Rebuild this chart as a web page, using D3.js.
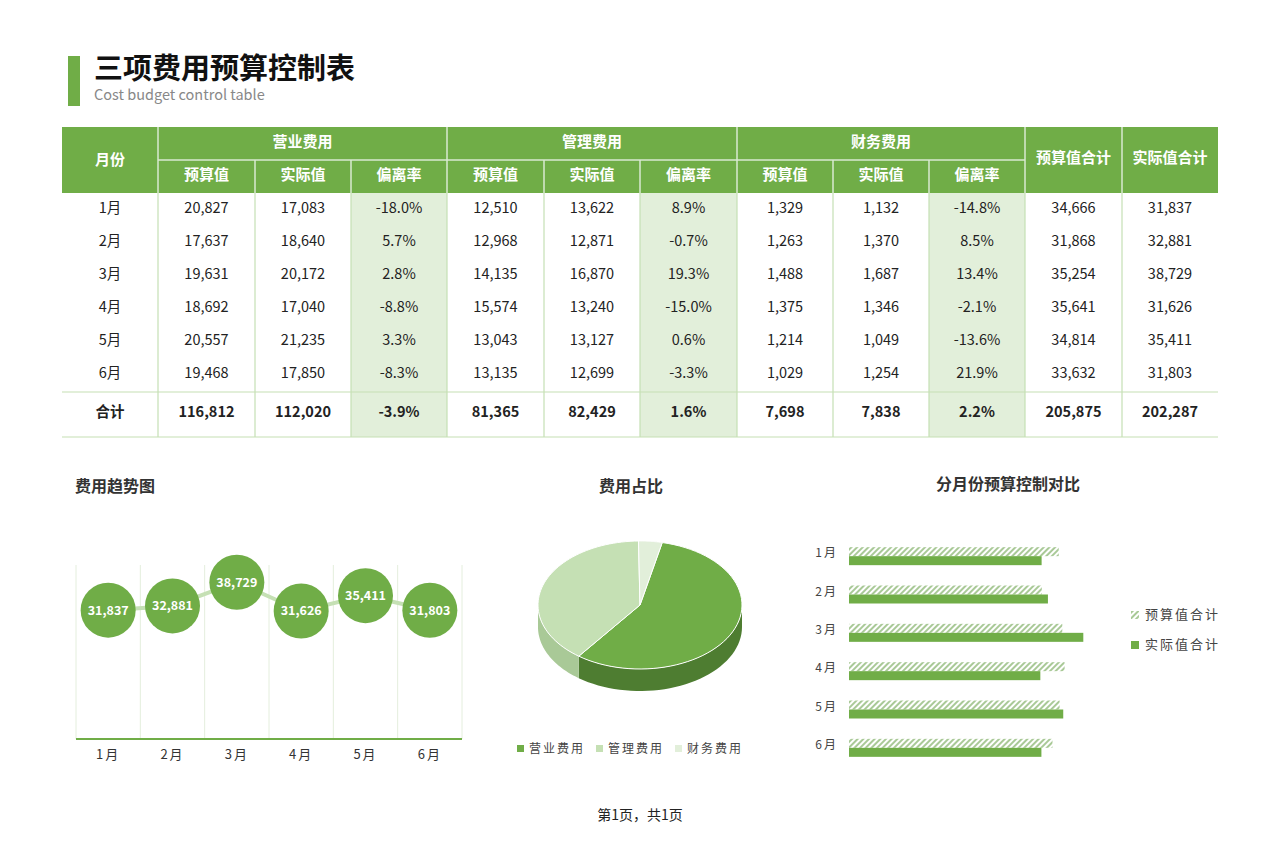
<!DOCTYPE html>
<html><head><meta charset="utf-8">
<script src="https://cdn.jsdelivr.net/npm/d3@7"></script>
<style>body{margin:0;background:#fff}text{font-family:"Noto Sans CJK SC","Noto Sans",sans-serif}</style>
</head><body><svg id="c" width="1280" height="857"></svg>
<script>
const months=["1月","2月","3月","4月","5月","6月"];
const groups=["营业费用","管理费用","财务费用"];
const subHeads=["预算值","实际值","偏离率"];
const opBudget=[20827,17637,19631,18692,20557,19468];
const opActual=[17083,18640,20172,17040,21235,17850];
const opRate=["-18.0%","5.7%","2.8%","-8.8%","3.3%","-8.3%"];
const mgBudget=[12510,12968,14135,15574,13043,13135];
const mgActual=[13622,12871,16870,13240,13127,12699];
const mgRate=["8.9%","-0.7%","19.3%","-15.0%","0.6%","-3.3%"];
const fiBudget=[1329,1263,1488,1375,1214,1029];
const fiActual=[1132,1370,1687,1346,1049,1254];
const fiRate=["-14.8%","8.5%","13.4%","-2.1%","-13.6%","21.9%"];
const budgetTotal=[34666,31868,35254,35641,34814,33632];
const actualTotal=[31837,32881,38729,31626,35411,31803];
const totalRow=["合计","116,812","112,020","-3.9%","81,365","82,429","1.6%","7,698","7,838","2.2%","205,875","202,287"];
const pieNames=["营业费用","管理费用","财务费用"];
const pieValues=[116812,81365,7698];
const monthTicks=["1月","2月","3月","4月","5月","6月"];

const svg=d3.select("#c");
const G="#70ad47",LG="#c5e0b4",PALE="#e2efda",LINE="#c5e0b4";
const NUM="Liberation Sans, Arial, 'Noto Sans CJK SC', sans-serif";
const fmt=d3.format(",");
svg.append("rect").attr("x",68).attr("y",56).attr("width",12).attr("height",50).attr("fill",G);
svg.append("text").attr("x",94).attr("y",79).attr("font-size",29).attr("font-weight",700).attr("fill","#111").text("三项费用预算控制表");
svg.append("text").attr("x",94).attr("y",100).attr("font-size",14.5).attr("fill","#888").attr("font-family",NUM).text("Cost budget control table");

const xs=[62,158,255,351,447,544,640,737,833,929,1025,1122,1218];
const cx=i=>(xs[i]+xs[i+1])/2;
svg.append("rect").attr("x",62).attr("y",127).attr("width",1156).attr("height",66).attr("fill",G);
const hdr=svg.append("g").attr("fill","#fff").attr("font-weight",700).attr("font-size",15).attr("text-anchor","middle");
hdr.append("text").attr("x",cx(0)).attr("y",165).text("月份");
groups.forEach((g,k)=>{hdr.append("text").attr("x",(xs[1+3*k]+xs[4+3*k])/2).attr("y",147).text(g);
 subHeads.forEach((s,j)=>hdr.append("text").attr("x",cx(1+3*k+j)).attr("y",180).text(s));});
hdr.append("text").attr("x",cx(10)).attr("y",163).text("预算值合计");
hdr.append("text").attr("x",cx(11)).attr("y",163).text("实际值合计");
const hl=svg.append("g").attr("stroke","#d9ead0").attr("stroke-width",1.5);
hl.append("line").attr("x1",158).attr("x2",1025).attr("y1",160).attr("y2",160);
[1,4,7,10,11].forEach(i=>hl.append("line").attr("x1",xs[i]).attr("x2",xs[i]).attr("y1",127).attr("y2",193));
[2,3,5,6,8,9].forEach(i=>hl.append("line").attr("x1",xs[i]).attr("x2",xs[i]).attr("y1",160).attr("y2",193));
[3,6,9].forEach(i=>svg.append("rect").attr("x",xs[i]).attr("y",193).attr("width",xs[i+1]-xs[i]).attr("height",244).attr("fill",PALE));
const bl=svg.append("g").attr("stroke",LINE).attr("stroke-width",1.2);
xs.slice(1,-1).forEach(x=>bl.append("line").attr("x1",x).attr("x2",x).attr("y1",193).attr("y2",437));
bl.append("line").attr("x1",62).attr("x2",1218).attr("y1",392).attr("y2",392);
bl.append("line").attr("x1",62).attr("x2",1218).attr("y1",437).attr("y2",437);
const cols=[months,opBudget.map(fmt),opActual.map(fmt),opRate,mgBudget.map(fmt),mgActual.map(fmt),mgRate,fiBudget.map(fmt),fiActual.map(fmt),fiRate,budgetTotal.map(fmt),actualTotal.map(fmt)];
const body=svg.append("g").attr("font-size",14.5).attr("fill","#222").attr("text-anchor","middle").attr("font-family",NUM);
months.forEach((m,r)=>cols.forEach((c,i)=>body.append("text").attr("x",i==0?110:cx(i)).attr("y",213+33*r).text(c[r])));
totalRow.forEach((t,i)=>body.append("text").attr("x",cx(i)).attr("y",417).attr("font-weight",700).text(t));

const st=svg.append("g").attr("font-size",16).attr("font-weight",700).attr("fill","#333");
st.append("text").attr("x",75).attr("y",492).text("费用趋势图");
st.append("text").attr("x",631).attr("y",492).attr("text-anchor","middle").text("费用占比");
st.append("text").attr("x",1008).attr("y",490).attr("text-anchor","middle").text("分月份预算控制对比");

const xb=d3.scaleBand().domain(monthTicks).range([76,462]);
const yl=d3.scaleLinear().domain([0,42000]).range([739,569]);
const tg=svg.append("g");
xb.domain().forEach(m=>{tg.append("line").attr("x1",xb(m)).attr("x2",xb(m)).attr("y1",565).attr("y2",739).attr("stroke","#e4eedd")});
tg.append("line").attr("x1",462).attr("x2",462).attr("y1",565).attr("y2",739).attr("stroke","#e4eedd");
tg.append("line").attr("x1",76).attr("x2",462).attr("y1",739).attr("y2",739).attr("stroke",G).attr("stroke-width",2);
const pts=actualTotal.map((v,i)=>[xb(monthTicks[i])+xb.bandwidth()/2,yl(v)]);
tg.append("path").attr("d",d3.line()(pts)).attr("fill","none").attr("stroke",LG).attr("stroke-width",4);
pts.forEach((p,i)=>{tg.append("circle").attr("cx",p[0]).attr("cy",p[1]).attr("r",27.5).attr("fill",G);
 tg.append("text").attr("x",p[0]).attr("y",p[1]+4.5).attr("text-anchor","middle").attr("fill","#fff").attr("font-weight",700).attr("font-size",12.5).text(fmt(actualTotal[i]));});
monthTicks.forEach(m=>tg.append("text").attr("x",xb(m)+xb.bandwidth()/2).attr("y",759).attr("text-anchor","middle").attr("font-size",13).attr("fill","#333").attr("letter-spacing",2).text(m));

const pcx=640,pcy=605,rx=102,ry=64,dep=22;
const pieCols=[G,LG,"#e2efda"],sideCols=["#4e7d31","#a9c997","#c9d9bf"];
const arcs=d3.pie().sort(null).startAngle(0.22).endAngle(0.22+2*Math.PI)(pieValues);
const P=(a,dy=0)=>[pcx+rx*Math.sin(a),pcy-ry*Math.cos(a)+dy];
const pg=svg.append("g");
function sidePath(a0,a1){const s=Math.max(a0,Math.PI/2),e=Math.min(a1,3*Math.PI/2);if(s>=e)return null;
 const n=40;let top=[],bot=[];for(let k=0;k<=n;k++){const a=s+(e-s)*k/n;top.push(P(a));bot.push(P(a,dep));}
 return d3.line()(top.concat(bot.reverse()))+"Z";}
arcs.forEach((a,i)=>{let a0=a.startAngle,a1=a.endAngle;
 [[a0,a1],[a0-2*Math.PI,a1-2*Math.PI],[a0+2*Math.PI,a1+2*Math.PI]].forEach(([s,e])=>{const d=sidePath(s,e);if(d)pg.append("path").attr("d",d).attr("fill",sideCols[i]);});});
arcs.forEach((a,i)=>{const n=60;const pts=[[pcx,pcy]];for(let k=0;k<=n;k++)pts.push(P(a.startAngle+(a.endAngle-a.startAngle)*k/n));
 pg.append("path").attr("d",d3.line()(pts)+"Z").attr("fill",pieCols[i]).attr("stroke","#fff").attr("stroke-width",1);});
pieNames.forEach((n,i)=>{const x=[517,596,675][i];
 pg.append("rect").attr("x",x).attr("y",745).attr("width",7).attr("height",7).attr("fill",pieCols[i]);
 pg.append("text").attr("x",x+12).attr("y",753).attr("font-size",12).attr("fill","#444").attr("letter-spacing",2).text(n);});

const defs=svg.append("defs");
const pat=defs.append("pattern").attr("id","hatch").attr("patternUnits","userSpaceOnUse").attr("width",4).attr("height",4).attr("patternTransform","rotate(45)");
pat.append("rect").attr("width",4).attr("height",4).attr("fill","#fff");
pat.append("rect").attr("width",2).attr("height",4).attr("fill","#a9c997");
const xh=d3.scaleLinear().domain([0,40000]).range([849,1091]);
const yb=d3.scaleBand().domain(monthTicks).range([537,767]);
const bg=svg.append("g");
monthTicks.forEach((m,i)=>{const y=yb(m)+yb.bandwidth()/2;
 bg.append("rect").attr("x",xh(0)).attr("y",y-9).attr("width",xh(budgetTotal[i])-xh(0)).attr("height",9).attr("fill","url(#hatch)");
 bg.append("rect").attr("x",xh(0)).attr("y",y).attr("width",xh(actualTotal[i])-xh(0)).attr("height",9).attr("fill",G);
 bg.append("text").attr("x",838).attr("y",y+1).attr("text-anchor","end").attr("font-size",12).attr("fill","#444").attr("letter-spacing",2).text(m);});
bg.append("rect").attr("x",1131).attr("y",611).attr("width",8).attr("height",8).attr("fill","url(#hatch)");
bg.append("text").attr("x",1145).attr("y",619).attr("font-size",13).attr("fill","#444").attr("letter-spacing",2).text("预算值合计");
bg.append("rect").attr("x",1131).attr("y",641).attr("width",8).attr("height",8).attr("fill",G);
bg.append("text").attr("x",1145).attr("y",649).attr("font-size",13).attr("fill","#444").attr("letter-spacing",2).text("实际值合计");

svg.append("text").attr("x",640).attr("y",820).attr("text-anchor","middle").attr("font-size",14).attr("fill","#222").text("第1页，共1页");
</script></body></html>
